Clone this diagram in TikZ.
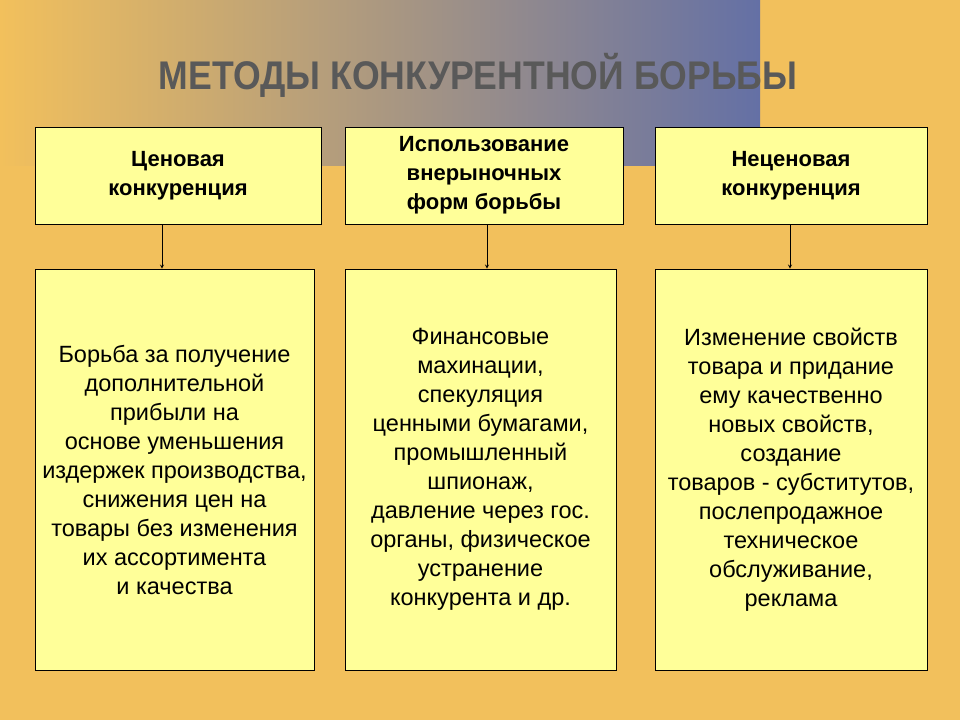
\documentclass[tikz,border=0pt]{standalone}
\usepackage{fontspec}
\setmainfont{Liberation Sans}
\definecolor{bg}{RGB}{242,192,92}
\definecolor{bl}{RGB}{100,112,165}
\definecolor{bx}{RGB}{255,255,153}
\begin{document}
\begin{tikzpicture}[x=1pt,y=-1pt,
  box/.style={draw=black,fill=bx,line width=0.8pt,align=center,font=\fontsize{23.5}{29}\selectfont},
  hd/.style={box,font=\bfseries\fontsize{22}{29}\selectfont},
  arr/.style={-stealth,line width=0.8pt}]
\useasboundingbox (0,0) rectangle (960,720);
\fill[bg] (0,0) rectangle (960,720);
\shade[left color=bg,right color=bl] (0,0) rectangle (760,165);
\node[font=\bfseries\fontsize{40}{42}\selectfont,text=black!65,xscale=0.89] (t) at (478,75) {МЕТОДЫ КОНКУРЕНТНОЙ БОРЬБЫ};
\node[hd,minimum width=286,minimum height=97] (a) at (178,175.5) {Ценовая\\конкуренция};
\node[hd,minimum width=278,minimum height=97] (b) at (484,175.5) {Использование\\внерыночных\\форм борьбы};
\node[hd,minimum width=272,minimum height=97] (c) at (791,175.5) {Неценовая\\конкуренция};
\node[box,minimum width=279,minimum height=401] (a2) at (174.5,469.5) {Борьба за получение\\дополнительной\\прибыли на\\основе уменьшения\\издержек производства,\\снижения цен на\\товары без изменения\\их ассортимента\\и качества};
\node[box,minimum width=271,minimum height=401] (b2) at (480.5,469.5) {Финансовые\\махинации,\\спекуляция\\ ценными бумагами,\\промышленный\\шпионаж,\\давление через гос.\\органы, физическое\\устранение\\конкурента и др.};
\node[box,minimum width=272,minimum height=401] (c2) at (791,469.5) {Изменение свойств\\товара и придание\\ему качественно\\новых свойств,\\создание\\товаров - субститутов,\\послепродажное\\техническое\\обслуживание,\\реклама};
\draw[arr] (a.south -| 162,0) -- (a2.north -| 162,0);
\draw[arr] (b.south -| 487,0) -- (b2.north -| 487,0);
\draw[arr] (c.south -| 790,0) -- (c2.north -| 790,0);
\end{tikzpicture}
\end{document}
